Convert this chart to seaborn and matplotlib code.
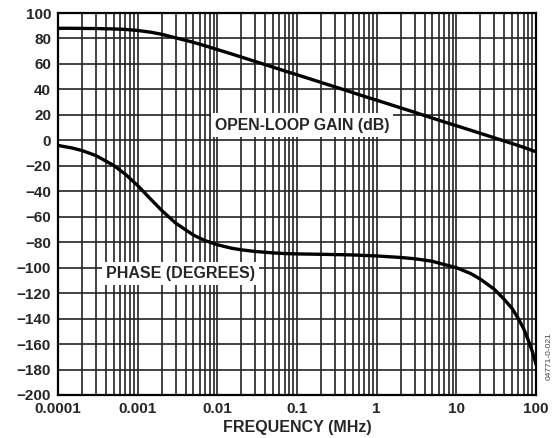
import numpy as np
import pandas as pd
import matplotlib
matplotlib.use("Agg")
import matplotlib.pyplot as plt
import seaborn as sns
from matplotlib.ticker import LogLocator, FixedLocator, FixedFormatter, NullFormatter

# ─── data ─────────────────────────────────────────────────────
gain_freq_mhz = [0.0001, 0.00015, 0.0002, 0.0003, 0.0005, 0.0007, 0.001,
                 0.0015, 0.002, 0.003, 0.005, 0.007, 0.01, 0.015, 0.02,
                 0.03, 0.05, 0.07, 0.1, 0.15, 0.2, 0.3, 0.5, 0.7, 1, 1.5,
                 2, 3, 5, 7, 10, 15, 20, 30, 50, 70, 100]
gain_db = [88, 88, 87.9, 87.8, 87.5, 87.1, 86.3, 84.8, 83.3, 80.5, 77,
           74.3, 71.3, 67.9, 65.4, 61.9, 57.5, 54.5, 51.5, 48, 45.5, 42,
           37.5, 34.5, 31.5, 28, 25.5, 22, 17.5, 14.5, 11.5, 8, 5.5, 2,
           -2.5, -5.5, -9]

phase_freq_mhz = [0.0001, 0.00015, 0.0002, 0.0003, 0.0005, 0.0007, 0.001,
                  0.0015, 0.002, 0.003, 0.005, 0.007, 0.01, 0.015, 0.02,
                  0.03, 0.05, 0.07, 0.1, 0.2, 0.5, 1, 2, 3, 5, 7, 10, 15,
                  20, 30, 40, 50, 60, 70, 80, 90, 100]
phase_deg = [-4, -6, -8, -12, -19.7, -26.6, -35.5, -47, -55, -65, -74.4,
             -78.7, -82, -84.7, -86, -87.3, -88.4, -88.9, -89.2, -89.5,
             -90, -90.8, -92, -93, -95, -97.5, -100, -104.5, -109, -117,
             -125, -132, -140, -148, -157, -166, -176]

y_ticks = list(range(-200, 101, 20))
x_ticks = [0.0001, 0.001, 0.01, 0.1, 1, 10, 100]
x_tick_labels = ["0.0001", "0.001", "0.01", "0.1", "1", "10", "100"]

gain_df = pd.DataFrame({"freq": gain_freq_mhz, "value": gain_db})
phase_df = pd.DataFrame({"freq": phase_freq_mhz, "value": phase_deg})

# ─── style ────────────────────────────────────────────────────
sns.set_style("white")
plt.rcParams["font.family"] = ["Liberation Sans", "DejaVu Sans"]

fig = plt.figure(figsize=(5.55, 4.38), dpi=100)
ax = fig.add_axes([0.1045, 0.0982, 0.8613, 0.8721])

sns.lineplot(data=gain_df, x="freq", y="value", ax=ax, color="black", lw=2.4)
sns.lineplot(data=phase_df, x="freq", y="value", ax=ax, color="black", lw=2.4)

ax.set_xscale("log")
ax.set_xlim(0.0001, 100)
ax.set_ylim(-200, 100)

ax.xaxis.set_major_locator(FixedLocator(x_ticks))
ax.xaxis.set_major_formatter(FixedFormatter(x_tick_labels))
ax.xaxis.set_minor_locator(LogLocator(base=10, subs=np.arange(2, 10)))
ax.xaxis.set_minor_formatter(NullFormatter())
ax.set_yticks(y_ticks)

ax.grid(which="major", axis="both", color="#222222", lw=1.2)
ax.grid(which="minor", axis="x", color="#222222", lw=1.2)
ax.set_axisbelow(True)

for s in ax.spines.values():
    s.set_color("black")
    s.set_linewidth(1.6)

ax.tick_params(axis="both", which="both", length=0, labelsize=11, pad=5)
for lbl in ax.get_xticklabels() + ax.get_yticklabels():
    lbl.set_fontweight("bold")

ax.set_xlabel("FREQUENCY (MHz)", fontsize=11.5, fontweight="bold", labelpad=3)
ax.set_ylabel("")

# ─── curve labels ─────────────────────────────────────────────
box = dict(facecolor="white", edgecolor="none", pad=3)
ax.text(0.0093, 12, "OPEN-LOOP GAIN (dB)", fontsize=11.4, fontweight="bold",
        va="center", ha="left", bbox=box, zorder=3)
ax.text(0.0004, -104.5, "PHASE (DEGREES)", fontsize=11.5, fontweight="bold",
        va="center", ha="left", bbox=box, zorder=3)

fig.text(0.989, 0.187, "04771-0-021", rotation=90, fontsize=6,
         color="#444444", ha="center", va="center")

fig.savefig("out.png", dpi=100)
